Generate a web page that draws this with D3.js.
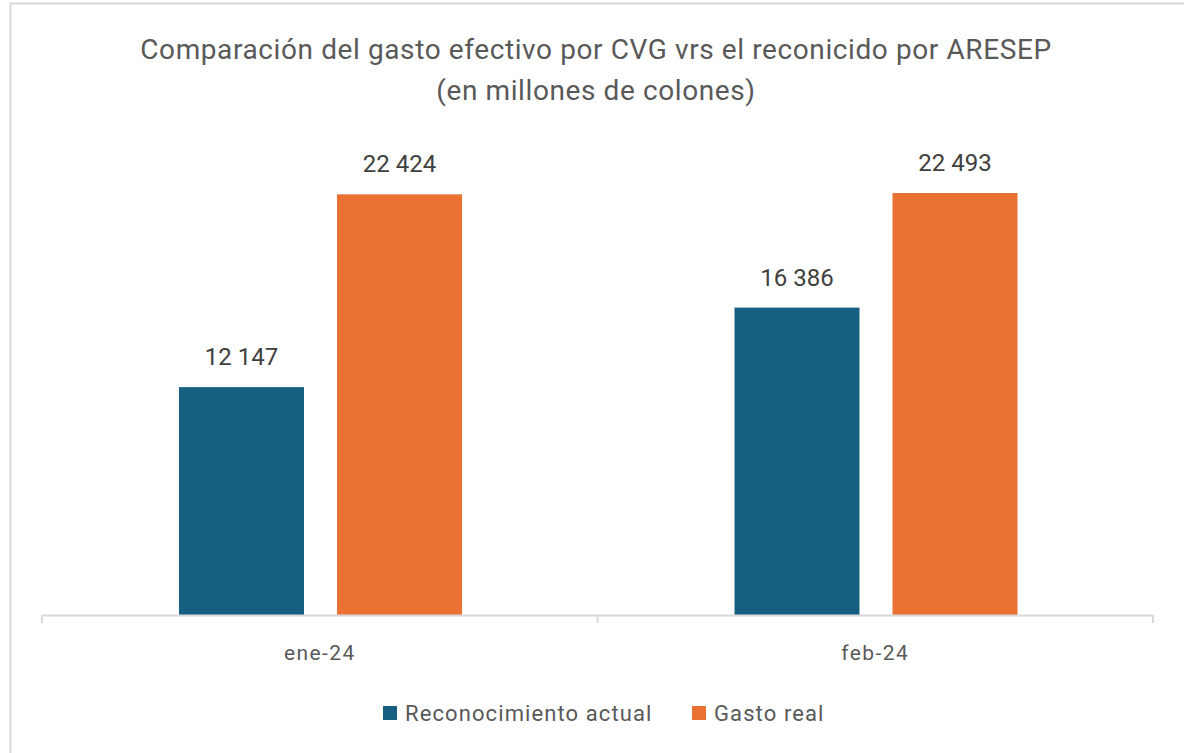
<!DOCTYPE html>
<html>
  <head>
    <meta charset="utf-8" />
    <title>Gasto efectivo CVG vs ARESEP</title>
    <script src="https://d3js.org/d3.v7.min.js"></script>
    <style>
      body { margin: 0; background: #fff; font-family: Roboto, sans-serif; }
      svg { display: block; }
    </style>
  </head>
  <body>
    <svg width="1184" height="753"></svg>
    <script>
      const categories = ["ene-24", "feb-24"];
      const seriesNames = ["Reconocimiento actual", "Gasto real"];
      const reconocimiento = [12147, 16386];
      const gastoReal = [22424, 22493];
      const colors = ["#156082", "#E97132"];
      const titleLines = ["Comparación del gasto efectivo por CVG vrs el reconicido por ARESEP", "(en millones de colones)"];

      const svg = d3.select("svg");
      const margin = { top: 146, right: 31, bottom: 138, left: 42 };
      const width = +svg.attr("width");
      const height = +svg.attr("height");
      const innerWidth = width - margin.left - margin.right;
      const innerHeight = height - margin.top - margin.bottom;

      // chart border (only top and left edges are visible, the rest is cropped)
      svg.append("path")
        .attr("d", `M${width},3.5H10.5V${height}`)
        .attr("fill", "none").attr("stroke", "#d9d9d9").attr("stroke-width", 2);

      const g = svg.append("g").attr("transform", `translate(${margin.left},${margin.top})`);

      const data = categories.map((c, i) => ({
        cat: c,
        values: [reconocimiento[i], gastoReal[i]]
      }));

      const x0 = d3.scaleBand().domain(categories).range([0, innerWidth]);
      const x1 = d3.scaleBand().domain([0, 1]).range([137, 420]).paddingInner(0.209);
      const y = d3.scaleLinear().domain([0, 25000]).range([innerHeight, 0]);

      const fmt = d3.formatLocale({ decimal: ",", thousands: " ", grouping: [3], currency: ["", ""] }).format(",d");

      const groups = g.selectAll(".cat").data(data).join("g")
        .attr("transform", d => `translate(${x0(d.cat)},0)`);

      groups.selectAll("rect").data(d => d.values).join("rect")
        .attr("x", (v, i) => x1(i))
        .attr("y", v => y(v))
        .attr("width", x1.bandwidth())
        .attr("height", v => innerHeight - y(v))
        .attr("fill", (v, i) => colors[i]);

      groups.selectAll("text.val").data(d => d.values).join("text")
        .attr("class", "val")
        .attr("x", (v, i) => x0(categories[0]) + x1(i) + x1.bandwidth() / 2)
        .attr("y", v => y(v) - 22)
        .attr("text-anchor", "middle")
        .attr("font-size", 24)
        .attr("fill", "#404040")
        .text(v => fmt(v));

      // x axis
      const xAxis = g.append("g").attr("transform", `translate(0,${innerHeight})`)
        .call(d3.axisBottom(x0).tickSize(0).tickPadding(30));
      xAxis.select(".domain").attr("stroke", "#d9d9d9").attr("stroke-width", 2);
      xAxis.selectAll("text")
        .attr("font-size", 21)
        .attr("letter-spacing", 1.4)
        .attr("fill", "#595959")
        .attr("font-family", "Roboto, sans-serif");
      const edges = [0, innerWidth / 2, innerWidth];
      xAxis.selectAll("line.edge").data(edges).join("line")
        .attr("class", "edge")
        .attr("x1", d => d).attr("x2", d => d)
        .attr("y1", 0).attr("y2", 8)
        .attr("stroke", "#d9d9d9").attr("stroke-width", 2);

      // title
      svg.append("text")
        .attr("x", 596).attr("y", 59)
        .attr("text-anchor", "middle")
        .attr("font-size", 28)
        .attr("letter-spacing", 0.6)
        .attr("fill", "#595959")
        .selectAll("tspan").data(titleLines).join("tspan")
        .attr("x", 596)
        .attr("dy", (d, i) => i === 0 ? 0 : 41)
        .text(d => d);

      // legend
      const legendX = [383, 692];
      const legend = svg.append("g");
      const items = legend.selectAll("g").data(seriesNames).join("g")
        .attr("transform", (d, i) => `translate(${legendX[i]},706)`);
      items.append("rect").attr("width", 14).attr("height", 14).attr("fill", (d, i) => colors[i]);
      items.append("text")
        .attr("x", 22).attr("y", 15)
        .attr("font-size", 22)
        .attr("letter-spacing", 1.1)
        .attr("fill", "#595959")
        .text(d => d);
    </script>
  </body>
</html>
